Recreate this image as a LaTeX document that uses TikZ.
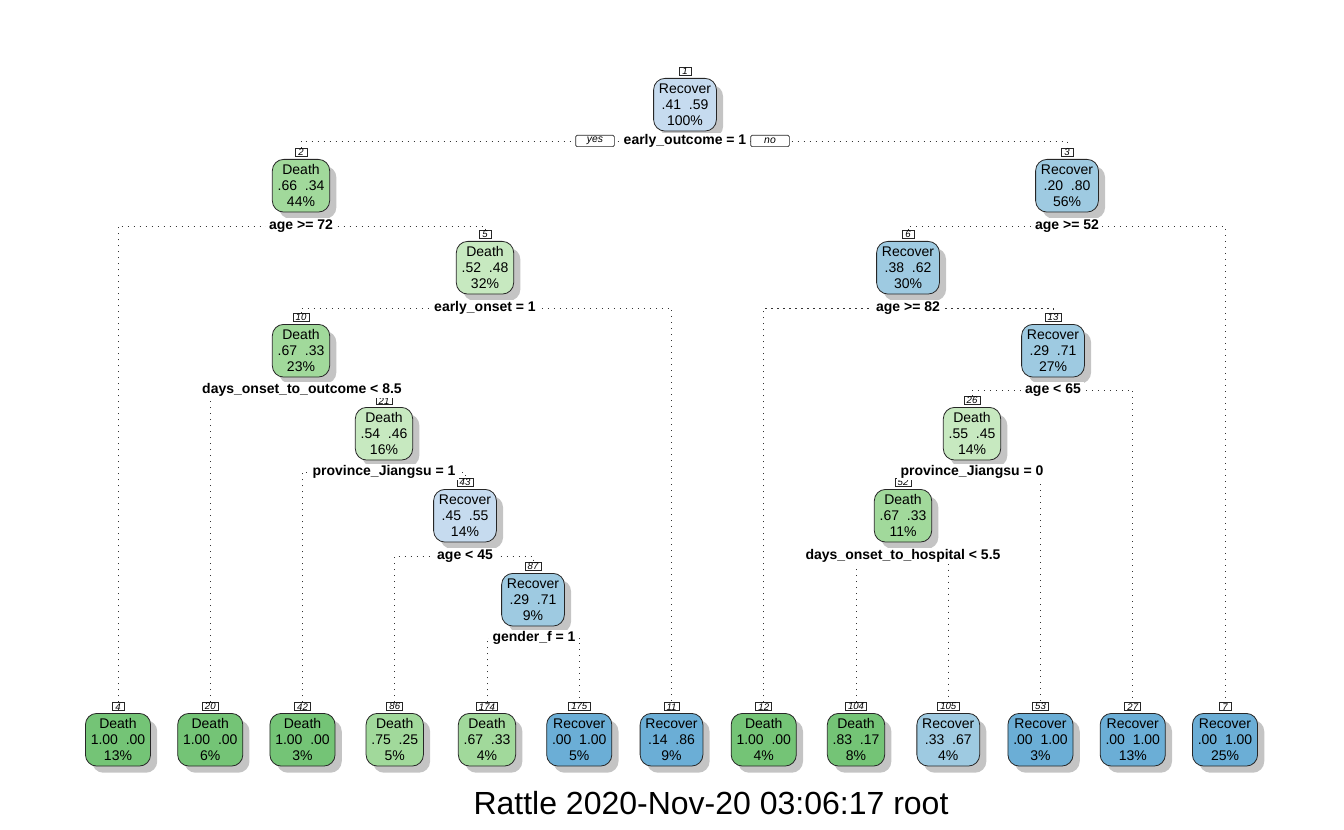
\documentclass[tikz,border=0pt]{standalone}
\usepackage{fontspec}
\setmainfont{Liberation Sans}
\usetikzlibrary{shadows,backgrounds}
\definecolor{rl}{HTML}{C6DBEF}
\definecolor{rm}{HTML}{9ECAE1}
\definecolor{rd}{HTML}{6BAED6}
\definecolor{dl}{HTML}{C7E9C0}
\definecolor{dm}{HTML}{A1D99B}
\definecolor{dd}{HTML}{74C476}
\newcommand\TN[5]{%
  \node[treebox, fill=#4] (n#1) at (#2,#3) {#5};
  \node[numlabel] (k#1) at ([yshift=1.5pt]n#1.north) {#1};}
\newcommand\SP[4]{\node[splitlabel] (s#1) at (#2,#3) {#4};}
\newcommand\CN[3]{\draw[conn] (k#2.north) |- (s#1.center) -| (k#3.north);}
\begin{document}
\begin{tikzpicture}[x=0.75pt,y=-0.75pt,
  treebox/.style={draw=black!85, line width=0.6pt, rounded corners=8.5pt, align=center,
    inner xsep=4pt, inner ysep=2pt, minimum height=39.5pt,
    font=\fontsize{10.5}{12}\selectfont, anchor=north,
    drop shadow={shadow xshift=5pt, shadow yshift=-5pt, fill=black!23, opacity=1}},
  numlabel/.style={draw=black!85, line width=0.5pt, fill=white,
    font=\fontsize{7.2}{8}\selectfont\itshape, inner xsep=2pt, inner ysep=0.5pt,
    minimum width=9pt, anchor=south},
  splitlabel/.style={fill=white, font=\fontsize{10.5}{12}\selectfont\bfseries,
    inner xsep=2.5pt, inner ysep=1pt},
  yn/.style={draw=black!85, line width=0.5pt, fill=white, rounded corners=1pt,
    font=\fontsize{7.8}{8}\selectfont\itshape, minimum width=29pt, minimum height=8.5pt,
    inner sep=0.5pt},
  conn/.style={line width=0.7pt, black!80, dash pattern=on 0.8pt off 3.7pt}]
\useasboundingbox (0,0) rectangle (1344,830);
% internal nodes
\TN{1}{685}{78}{rl}{Recover\\.41~~.59\\100\%}
\TN{2}{301}{159}{dm}{Death\\.66~~.34\\44\%}
\TN{3}{1067}{159}{rm}{Recover\\.20~~.80\\56\%}
\TN{5}{485}{241}{dl}{Death\\.52~~.48\\32\%}
\TN{6}{908}{241}{rm}{Recover\\.38~~.62\\30\%}
\TN{10}{301}{324}{dm}{Death\\.67~~.33\\23\%}
\TN{13}{1053}{324}{rm}{Recover\\.29~~.71\\27\%}
\TN{21}{384}{407}{dl}{Death\\.54~~.46\\16\%}
\TN{26}{972}{407}{dl}{Death\\.55~~.45\\14\%}
\TN{43}{465}{489}{rl}{Recover\\.45~~.55\\14\%}
\TN{52}{903}{489}{dm}{Death\\.67~~.33\\11\%}
\TN{87}{533}{573}{rm}{Recover\\.29~~.71\\9\%}
% leaves
\TN{4}{118}{713}{dd}{Death\\1.00~~.00\\13\%}
\TN{20}{210.25}{713}{dd}{Death\\1.00~~.00\\6\%}
\TN{42}{302.5}{713}{dd}{Death\\1.00~~.00\\3\%}
\TN{86}{394.75}{713}{dm}{Death\\.75~~.25\\5\%}
\TN{174}{487}{713}{dm}{Death\\.67~~.33\\4\%}
\TN{175}{579.25}{713}{rd}{Recover\\.00~~1.00\\5\%}
\TN{11}{671.5}{713}{rd}{Recover\\.14~~.86\\9\%}
\TN{12}{763.75}{713}{dd}{Death\\1.00~~.00\\4\%}
\TN{104}{856}{713}{dd}{Death\\.83~~.17\\8\%}
\TN{105}{948.25}{713}{rm}{Recover\\.33~~.67\\4\%}
\TN{53}{1040.5}{713}{rd}{Recover\\.00~~1.00\\3\%}
\TN{27}{1132.75}{713}{rd}{Recover\\.00~~1.00\\13\%}
\TN{7}{1225}{713}{rd}{Recover\\.00~~1.00\\25\%}
% split labels
\SP{1}{685}{141}{early\_outcome = 1}
\SP{2}{301}{226}{age >= 72}
\SP{3}{1067}{226}{age >= 52}
\SP{5}{485}{308}{early\_onset = 1}
\SP{6}{908}{308}{age >= 82}
\SP{10}{302}{390}{days\_onset\_to\_outcome < 8.5}
\SP{13}{1053}{390}{age < 65}
\SP{21}{384}{472}{province\_Jiangsu = 1}
\SP{26}{972}{472}{province\_Jiangsu = 0}
\SP{43}{465}{556}{age < 45}
\SP{52}{903}{556}{days\_onset\_to\_hospital < 5.5}
\SP{87}{534}{638}{gender\_f = 1}
\node[yn] (yes) at (595,141) {yes};
\node[yn] (no) at (770,141) {no};
% connectors
\begin{scope}[on background layer]
\CN{1}{2}{3}
\CN{2}{4}{5}
\CN{3}{6}{7}
\CN{5}{10}{11}
\CN{6}{12}{13}
\CN{10}{20}{21}
\CN{13}{26}{27}
\CN{21}{42}{43}
\CN{26}{52}{53}
\CN{43}{86}{87}
\CN{52}{104}{105}
\CN{87}{174}{175}
\end{scope}
\node[font=\fontsize{24}{28}\selectfont] (title) at (711,803) {Rattle 2020-Nov-20 03:06:17 root};
\end{tikzpicture}
\end{document}
